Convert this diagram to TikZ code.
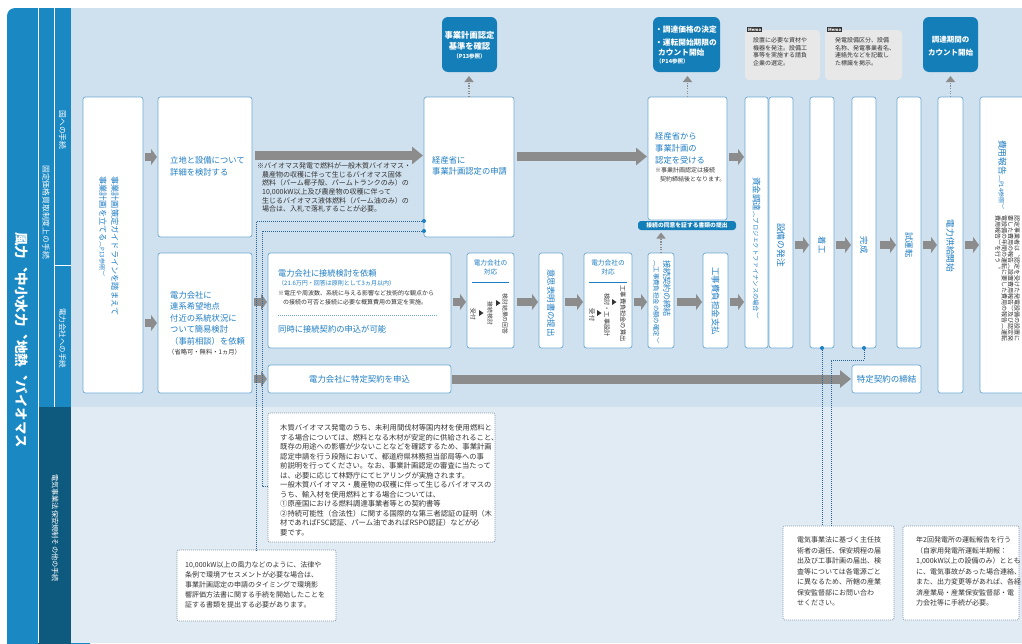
\documentclass[tikz,border=0pt]{standalone}
\usepackage{fontspec}
\setmainfont{Noto Sans CJK JP}
\newfontfamily\vjp[Vertical=RotatedGlyphs]{Noto Sans CJK JP}
\usetikzlibrary{arrows.meta,fit}
\newcommand\fsz[2]{\fontsize{#1}{#2}\selectfont}
\definecolor{bgmain}{HTML}{CFE0EE}
\definecolor{bglow}{HTML}{E1EBF4}
\definecolor{band}{HTML}{1A88C2}
\definecolor{banddark}{HTML}{0E5A7E}
\definecolor{callout}{HTML}{147EB8}
\definecolor{edge}{HTML}{6DAAD4}
\definecolor{btext}{HTML}{1E7DC3}
\definecolor{dtext}{HTML}{333333}
\definecolor{agray}{HTML}{8C8C8C}
\definecolor{memo}{HTML}{E8E8E8}
\definecolor{linkblue}{HTML}{2A6496}
\definecolor{dotblue}{HTML}{1A80C0}
\definecolor{notefr}{HTML}{8296AA}
\begin{document}
\begin{tikzpicture}[x=1pt,y=-1pt,
  box/.style={draw=edge, line width=0.7pt, fill=white, rounded corners=2.5pt, inner sep=0pt, outer sep=0pt},
  callbox/.style={fill=callout, rounded corners=6pt, inner sep=0pt, outer sep=0pt},
  memobox/.style={fill=memo, rounded corners=4pt, inner sep=0pt, outer sep=0pt},
  notebox/.style={draw=notefr, line width=0.7pt, dash pattern=on 1pt off 1pt, fill=white, rounded corners=2pt, inner sep=0pt, outer sep=0pt},
  htext/.style={anchor=north west, inner sep=0pt, align=left, text=btext},
  ntext/.style={anchor=north west, inner sep=0pt, align=left, text=dtext},
  vtext/.style={rotate=-90, inner sep=0pt, align=left, text=btext},
  sarrow/.style={draw=agray, line width=8pt, -{Triangle[length=6pt,width=16pt]}, shorten <=2pt, shorten >=1pt},
  barrow/.style={draw=agray, line width=9pt, -{Triangle[length=11pt,width=17pt]}, shorten <=3pt, shorten >=1pt},
  uparrow/.style={draw=agray, line width=1.3pt, dash pattern=on 1.3pt off 1.3pt, -{Triangle[length=6pt,width=9pt]}, shorten >=4pt},
  link/.style={draw=linkblue, line width=0.7pt, dash pattern=on 1pt off 1pt},
  memolabel/.style={fill=black!80, text=white, font=\bfseries\fsz{4.2}{5}, inner sep=1pt, anchor=north west}
]
\useasboundingbox (0,0) rectangle (1022,643);
\clip (0,0) rectangle (1022,643);

% ---------- backgrounds and side band ----------
\fill[white] (0,0) rectangle (1022,643);
\fill[band, rounded corners=8pt] (7,8) rectangle (90,700);
\fill[bgmain] (71,8) rectangle (1022,407);
\fill[bglow] (71,407) rectangle (1022,643);
\fill[banddark] (38,407) rectangle (71,650);
\draw[white, line width=0.8pt] (38,8) -- (38,643) (54,8) -- (54,407) (54,265) -- (71,265);

\node[vtext, text=white, font=\vjp\bfseries\fsz{13.5}{15}] (lbFuel) at (22,340) {風力、中小水力、地熱、バイオマス};
\node[vtext, text=white, font=\vjp\fsz{7.8}{9}] (lbFit) at (46,212) {固定価格買取制度上の手続};
\node[vtext, text=white, font=\vjp\fsz{7.8}{9}] (lbKuni) at (62.5,130) {国への手続};
\node[vtext, text=white, font=\vjp\fsz{7.5}{9}] (lbDen) at (62.5,338) {電力会社への手続};
\node[vtext, text=white, font=\vjp\fsz{7.2}{9}] (lbHoan) at (55,528) {電気事業法保安規制その他の手続};

% ---------- callouts and memos ----------
\node[callbox, fit={(442,17) (497,72)}] (T1) {};
\node[callbox, fit={(653,17) (720,72)}] (T2) {};
\node[callbox, fit={(923,17) (978,72)}] (T3) {};
\node[anchor=north, align=center, inner sep=0pt, text=white, font=\bfseries\fsz{8.3}{11.5}] (tT1) at (469.5,30.8) {事業計画認定\\基準を確認};
\node[inner sep=0pt, text=white, font=\bfseries\fsz{5.5}{7}] (tT1p) at (469.5,56) {（P13参照）};
\node[anchor=north west, align=left, inner sep=0pt, text=white, font=\bfseries\fsz{7.7}{10}] (tT2) at (655,25.5) {・調達価格の決定\\[3.4pt]・運転開始期限の\\\hspace*{3pt}カウント開始};
\node[anchor=north west, inner sep=0pt, text=white, font=\bfseries\fsz{5.5}{7}] (tT2p) at (656,58.3) {（P14参照）};
\node[align=center, inner sep=0pt, text=white, font=\bfseries\fsz{7.5}{12.5}] (tT3) at (950.5,46.3) {調達期間の\\カウント開始};

\node[memobox, fit={(745,30) (820,80)}] (M1) {};
\node[memobox, fit={(825,30) (902,80)}] (M2) {};
\node[memolabel] (lM1) at (747,27) {Memo};
\node[memolabel] (lM2) at (827,27) {Memo};
\node[ntext, font=\fsz{6}{7.8}] (tM1) at (753,37) {設置に必要な資材や\\機器を発注。設備工\\事等を実施する請負\\企業の選定。};
\node[ntext, font=\fsz{6}{7.8}] (tM2) at (835,37) {発電設備区分、設備\\名称、発電事業者名、\\連絡先などを記載し\\た標識を掲示。};

% ---------- process boxes ----------
\node[box, fit={(83,97) (143,393)}] (A) {};
\node[box, fit={(158,97) (252,237)}] (B) {};
\node[box, fit={(424,97) (514,237)}] (C) {};
\node[box, fit={(648,97) (727,220)}] (D) {};
\node[box, fit={(745,97) (768,348)}] (E) {};
\node[box, fit={(769,97) (793,348)}] (F) {};
\node[box, fit={(810,97) (834,348)}] (G) {};
\node[box, fit={(852,97) (876,348)}] (H) {};
\node[box, fit={(897,97) (921,348)}] (I) {};
\node[box, fit={(938,97) (963,393)}] (J) {};
\node[box, fit={(980,97) (1040,393)}] (K) {};
\node[box, fit={(158,253) (252,393)}] (L) {};
\node[box, fit={(268,253) (451,348)}] (M) {};
\node[box, fit={(268,365) (451,393)}] (N) {};
\node[box, fit={(467,253) (514,348)}] (O) {};
\node[box, fit={(539,253) (563,348)}] (P) {};
\node[box, fit={(584,253) (632,348)}] (Q) {};
\node[box, fit={(648,253) (674,348)}] (R) {};
\node[box, fit={(703,253) (728,348)}] (S) {};
\node[box, fit={(852,365) (921,393)}] (TK) {};
\node[callbox, rounded corners=3pt, fit={(638,221) (736,230)}] (Bar) {};
\node[inner sep=0pt, text=white, font=\bfseries\fsz{5.8}{7}] (tBar) at (Bar.center) {接続の同意を証する書類の提出};

% ---------- box texts ----------
\node[vtext, anchor=west, font=\vjp\fsz{8.2}{12}] (tA) at (109,176) {事業計画策定ガイドラインを踏まえて\\事業計画を立てる{\fsz{6}{12}（P13参照）}};
\node[htext, font=\fsz{8.3}{12}] (tB) at (170,156) {立地と設備について\\詳細を検討する};
\node[ntext, font=\fsz{7}{8.65}] (tBC) at (257,162.5) {※バイオマス発電で燃料が一般木質バイオマス・\\\hspace*{5pt}農産物の収穫に伴って生じるバイオマス固体\\\hspace*{5pt}燃料（パーム椰子殻、パームトランクのみ）の\\\hspace*{5pt}10,000kW以上及び農産物の収穫に伴って\\\hspace*{5pt}生じるバイオマス液体燃料（パーム油のみ）の\\\hspace*{5pt}場合は、入札で落札することが必要。};
\node[htext, font=\fsz{8.3}{11}] (tC) at (432,156.5) {経産省に\\事業計画認定の申請};
\node[htext, font=\fsz{8.3}{11.7}] (tD) at (655,132.5) {経産省から\\事業計画の\\認定を受ける};
\node[ntext, font=\fsz{6}{9}] (tDn) at (655,167) {※事業計画認定は接続\\\hspace*{5pt}契約締結後となります。};
\node[vtext, font=\vjp] (tE) at (756.5,248) {{\fsz{8.5}{10}資金調達}{\fsz{6.3}{10}（プロジェクトファイナンスの場合）}};
\node[vtext, font=\vjp\fsz{8.7}{10}] (tF) at (781,245) {設備の発注};
\node[vtext, font=\vjp\fsz{8.3}{10}] (tG) at (822,245) {着工};
\node[vtext, font=\vjp\fsz{8.3}{10}] (tH) at (864,245) {完成};
\node[vtext, font=\vjp\fsz{8.3}{10}] (tI) at (909,245) {試運転};
\node[vtext, font=\vjp\fsz{8.7}{10}] (tJ) at (950.5,246) {電力供給開始};
\node[vtext, anchor=west, font=\vjp] (tK) at (1002.5,140) {{\fsz{8.7}{10}費用報告}{\fsz{6}{10}（P14参照）}};
\node[vtext, anchor=west, text=dtext, font=\vjp\fsz{6}{6.4}] (tKb) at (1007.5,215) {認定事業者は、認定を受けた発電設備の設置に\\要した費用の報告（設置費用報告）及び認定発\\電設備の年間の運転に要した費用の報告（運転\\費用報告）を行う。};

\node[htext, font=\fsz{8.3}{11.5}] (tL) at (170,291) {電力会社に\\連系希望地点\\付近の系統状況に\\ついて簡易検討\\（事前相談）を依頼};
\node[ntext, font=\fsz{6.3}{8}] (tLn) at (168,348.5) {（省略可・無料・1ヵ月）};

\node[htext, font=\fsz{8.2}{10}] (tM) at (278,269.2) {電力会社に接続検討を依頼};
\node[htext, font=\fsz{6}{8}] (tMs) at (278,279.7) {（21.6万円・回答は原則として3ヵ月以内）};
\node[ntext, font=\fsz{6}{9}] (tMn) at (278,290.3) {※電圧や周波数、系統に与える影響など技術的な観点から\\\hspace*{5pt}の接続の可否と接続に必要な概算費用の算定を実施。};
\draw[edge, line width=0.8pt, dash pattern=on 1pt off 1pt] (M.west |- 0,315) ++(10,0) -- (438,315);
\node[htext, font=\fsz{8.3}{10}] (tM2) at (278,325.2) {同時に接続契約の申込が可能};
\node[text=btext, inner sep=0pt, font=\fsz{8.4}{10}] (tN) at (N.center) {電力会社に特定契約を申込};
\node[text=btext, inner sep=0pt, font=\fsz{8.5}{10}] (tTK) at (TK.center) {特定契約の締結};

% electric company response boxes
\node[anchor=north, align=center, inner sep=0pt, text=btext, font=\fsz{6.7}{9}] (tO) at (490.5,260) {電力会社の\\対応};
\draw[btext, line width=0.8pt] (472,282) -- (509,282);
\node[vtext, text=dtext, font=\vjp\fsz{5.8}{7}] (tO1) at (473,314.5) {受付};
\node[vtext, text=dtext, font=\vjp\fsz{5.8}{7}] (tO2) at (490,313.5) {接続検討};
\node[vtext, text=dtext, font=\vjp\fsz{5.8}{7}] (tO3) at (505,314) {検討結果の回答};
\fill[dtext] (479,310) -- (483.5,313) -- (479,316) -- cycle;
\fill[dtext] (496,300) -- (500.5,303) -- (496,306) -- cycle;

\node[vtext, font=\vjp\fsz{8.4}{10}] (tP) at (551,303) {意思表明書の提出};

\node[anchor=north, align=center, inner sep=0pt, text=btext, font=\fsz{6.7}{9}] (tQ) at (608,260) {電力会社の\\対応};
\draw[btext, line width=0.8pt] (589,282) -- (627,282);
\node[vtext, text=dtext, font=\vjp\fsz{6.2}{7}] (tQ1) at (592,315) {受付};
\node[vtext, text=dtext, font=\vjp\fsz{6.2}{7}] (tQ2) at (607,315) {検討・工事設計};
\node[vtext, text=dtext, font=\vjp\fsz{6.2}{7}] (tQ3) at (623,313.5) {工事費負担金の算出};
\fill[dtext] (597,310) -- (601.5,313) -- (597,316) -- cycle;
\fill[dtext] (612,299) -- (616.5,302) -- (612,305) -- cycle;

\node[vtext, anchor=west, font=\vjp\fsz{8.1}{10}] (tR) at (662,260) {接続契約の締結\\{\fsz{6.4}{10}（工事費負担金の額の確定）}};
\node[vtext, font=\vjp\fsz{8.5}{10}] (tS) at (715.5,301) {工事費負担金支払};

% ---------- flow arrows ----------
\draw[sarrow] (A.east |- 0,157) -- (B.west |- 0,157);
\draw[barrow] (B.east |- 0,155.5) -- (C.west |- 0,155.5);
\draw[barrow] (C.east |- 0,156.5) -- (D.west |- 0,156.5);
\draw[sarrow] (D.east |- 0,157) -- (E.west |- 0,157);
\draw[sarrow] (A.east |- 0,323) -- (L.west |- 0,323);
\draw[sarrow] (L.east |- 0,302) -- (M.west |- 0,302);
\draw[sarrow] (L.east |- 0,379) -- (N.west |- 0,379);
\draw[sarrow] (M.east |- 0,302) -- (O.west |- 0,302);
\draw[sarrow, shorten <=3pt] (O.east |- 0,302) -- (P.west |- 0,302);
\draw[sarrow] (P.east |- 0,302) -- (Q.west |- 0,302);
\draw[sarrow] (Q.east |- 0,302) -- (R.west |- 0,302);
\draw[sarrow, shorten <=3pt] (R.east |- 0,302) -- (S.west |- 0,302);
\draw[sarrow] (S.east |- 0,302) -- (E.west |- 0,302);
\draw[barrow, shorten <=1pt] (N.east |- 0,379) -- (TK.west |- 0,379);
\draw[sarrow] (F.east |- 0,245) -- (G.west |- 0,245);
\draw[sarrow] (G.east |- 0,245) -- (H.west |- 0,245);
\draw[sarrow, shorten <=4pt] (H.east |- 0,245) -- (I.west |- 0,245);
\draw[sarrow] (I.east |- 0,245) -- (J.west |- 0,245);
\draw[sarrow] (J.east |- 0,245) -- (K.west |- 0,245);

% ---------- dotted reference arrows ----------
\draw[uparrow] (C.north) -- (C.north |- T1.south);
\draw[uparrow] (D.north) -- (D.north |- T2.south);
\draw[uparrow] (J.north) -- (J.north |- T3.south);
\draw[uparrow, shorten >=2.5pt] (R.north) -- (R.north |- Bar.south);

% ---------- notes in the lower band ----------
\node[notebox, fit={(268,413) (495,542)}] (N1) {};
\node[notebox, fit={(177,550) (336,621)}] (N2) {};
\node[notebox, fit={(783,526) (894,620)}] (N3) {};
\node[notebox, fit={(903,526) (1019,620)}] (N4) {};

\node[ntext, font=\fsz{7.3}{9.5}] (tN1) at (280,424.5) {木質バイオマス発電のうち、未利用間伐材等国内材を使用燃料と\\する場合については、燃料となる木材が安定的に供給されること、\\既存の用途への影響が少ないことなどを確認するため、事業計画\\認定申請を行う段階において、都道府県林務担当部局等への事\\前説明を行ってください。なお、事業計画認定の審査に当たって\\は、必要に応じて林野庁にてヒアリングが実施されます。\\一般木質バイオマス・農産物の収穫に伴って生じるバイオマスの\\うち、輸入材を使用燃料とする場合については、\\①原産国における燃料調達事業者等との契約書等\\②持続可能性（合法性）に関する国際的な第三者認証の証明（木\\材であればFSC認証、パーム油であればRSPO認証）などが必\\要です。};
\node[ntext, font=\fsz{7}{10}] (tN2) at (185,561.5) {10,000kW以上の風力などのように、法律や\\条例で環境アセスメントが必要な場合は、\\事業計画認定の申請のタイミングで環境影\\響評価方法書に関する手続を開始したことを\\証する書類を提出する必要があります。};
\node[ntext, font=\fsz{7}{10.5}] (tN3) at (797,536.5) {電気事業法に基づく主任技\\術者の選任、保安規程の届\\出及び工事計画の届出、検\\査等については各電源ごと\\に異なるため、所轄の産業\\保安監督部にお問い合わ\\せください。};
\node[ntext, font=\fsz{7}{10.5}] (tN4) at (916,536.5) {年2回発電所の運転報告を行う\\（自家用発電所運転半期報：\\1,000kW以上の設備のみ）ととも\\に、電気事故があった場合連絡、\\また、出力変更等があれば、各経\\済産業局・産業保安監督部・電\\力会社等に手続が必要。};

% ---------- dotted leaders to the notes ----------
\draw[link] (C.west |- 0,221) -| (N2.north);
\draw[link] (C.west |- 0,231) -| (262,486) -- (N1.west |- 0,486);
\draw[link] (G.south) -- (G.south |- N3.north);
\draw[link] (H.south) -- ++(0,12) -| (831,0 |- N3.north);
\fill[dotblue] (C.west |- 0,221) circle[radius=2pt];
\fill[dotblue] (C.west |- 0,231) circle[radius=2pt];
\fill[dotblue] (G.south) circle[radius=2pt];
\fill[dotblue] (H.south) circle[radius=2pt];
\end{tikzpicture}
\end{document}
